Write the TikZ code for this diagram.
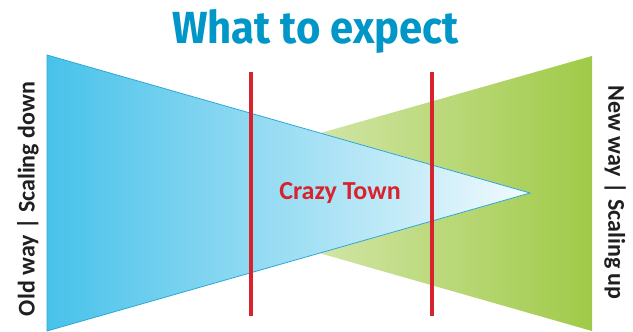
\documentclass[tikz,border=0pt]{standalone}
\usepackage{fontspec}
\setmainfont{Carlito}
\newfontfamily\titlefont{Fira Sans}
\usetikzlibrary{positioning}
\definecolor{titleblue}{RGB}{0,150,200}
\definecolor{oldblue}{RGB}{72,194,234}
\definecolor{oldpale}{RGB}{242,250,253}
\definecolor{edgeblue}{RGB}{45,168,216}
\definecolor{newgreen}{RGB}{160,202,72}
\definecolor{newpale}{RGB}{246,250,236}
\definecolor{townred}{RGB}{215,35,45}

\begin{document}
\begin{tikzpicture}[x=0.75pt, y=-0.75pt,
  sidelabel/.style={font=\bfseries\fontsize{18}{20}\selectfont, text=black!88},
  crossline/.style={townred, line width=2.6pt}]
  \useasboundingbox (0,0) rectangle (633,332);

  \node[font=\titlefont\bfseries\fontsize{33.75}{36}\selectfont, text=titleblue, anchor=base] (title) at (315.5,43) {\scalebox{0.93}[1]{What to expect}};

  % new way, sits behind
  \shade[left color=newpale, right color=newgreen] (109,193) -- (592,56) -- (592,331) -- cycle;
  % old way, in front
  \shadedraw[draw=edgeblue, line width=0.6pt, left color=oldblue, right color=oldpale] (47,55) -- (530,193) -- (47,331) -- cycle;

  \draw[crossline] (251,72) -- (251,316);
  \draw[crossline] (432,72) -- (432,316);

  \node[font=\bfseries\fontsize{19.5}{22}\selectfont, text=townred] (town) at (340,193) {Crazy Town};

  \node[sidelabel, rotate=90] (old) at (28,199) {Old way | Scaling down};
  \node[sidelabel, rotate=-90] (new) at (615,192.5) {New way | Scaling up};
\end{tikzpicture}
\end{document}
